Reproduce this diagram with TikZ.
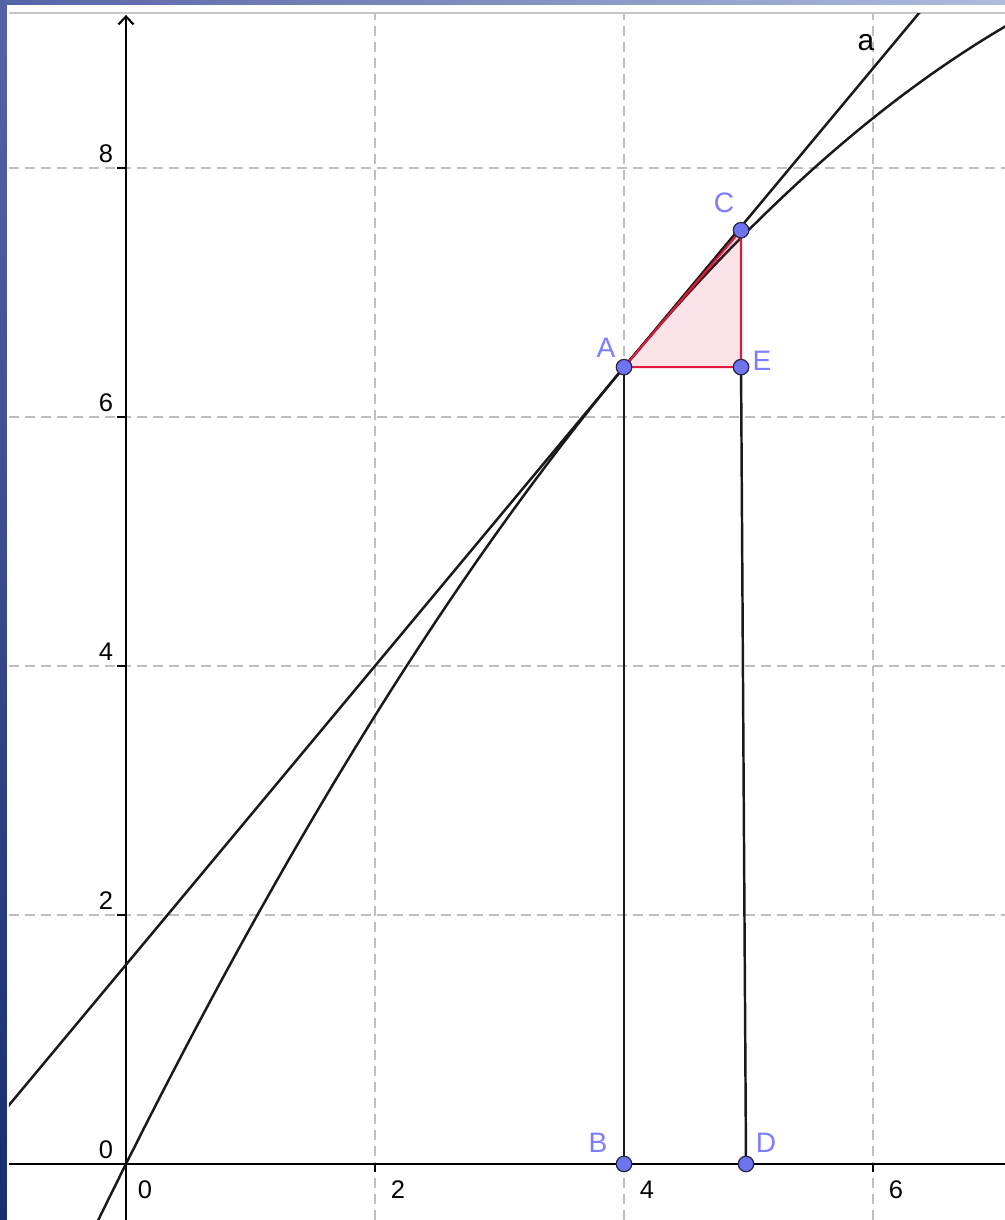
\documentclass[tikz,border=0pt]{standalone}
\usepackage{fontspec}
\setmainfont{Liberation Sans}
\usepackage{xcolor}
\usetikzlibrary{arrows.meta, positioning}

\definecolor{ptfill}{RGB}{110,116,240}
\definecolor{ptedge}{RGB}{40,40,70}
\definecolor{ptlabelcol}{RGB}{125,125,255}
\definecolor{triedge}{RGB}{225,25,60}
\definecolor{frameA}{RGB}{85,100,165}
\definecolor{frameB}{RGB}{25,45,115}
\definecolor{frameC}{RGB}{175,188,222}

\begin{document}
\begin{tikzpicture}[
    x=2.49cm, y=2.49cm,
    gridline/.style={gray!50, line width=0.8pt, dash pattern=on 0.2cm off 0.12cm},
    axisline/.style={black, line width=1.2pt},
    graphline/.style={black!90, line width=1.4pt},
    tri/.style={draw=triedge, fill=triedge, fill opacity=0.12, line width=1.2pt, line join=round},
    dot/.style={circle, draw=ptedge, fill=ptfill, line width=0.7pt, minimum size=0.31cm, inner sep=0pt},
    ptlabel/.style={text=ptlabelcol, font=\fontsize{16}{18}\selectfont, inner sep=0pt},
    numlabel/.style={font=\fontsize{14.5}{16}\selectfont, inner sep=0pt}
]

\useasboundingbox (-1.012,-0.450) rectangle (7.060,9.349);

% Window frame
\fill[white] (-1.012,-0.450) rectangle (7.060,9.349);
\shade[top color=frameA, bottom color=frameB] (-1.012,-0.450) rectangle (-0.956,9.349);
\shade[left color=frameA, right color=frameC] (-1.012,9.309) rectangle (7.060,9.349);
\draw[gray!45, line width=1.2pt] (-0.940,9.245) -- (7.060,9.245);

% Points
\coordinate (A) at (4,6.4);
\coordinate (B) at (4,0);
\coordinate (C) at (4.94,7.5);
\coordinate (D) at (4.98,0);
\coordinate (E) at (4.94,6.4);

\begin{scope}
\clip (-0.940,-0.450) rectangle (7.060,9.237);

% Grid
\foreach \x in {2,4,6}
    \draw[gridline] (\x,-0.45) -- (\x,9.237);
\foreach \y in {2,4,6,8}
    \draw[gridline] (-0.94,\y) -- (7.06,\y);

% Axes
\draw[axisline] (-0.94,0) -- (7.06,0);
\draw[axisline, -{Straight Barb[length=0.16cm, width=0.3cm]}] (0,-0.45) -- (0,9.229);
\foreach \x in {2,4,6}
    \draw[axisline] (\x,0) -- ++(0,-0.16cm);
\foreach \y in {2,4,6,8}
    \draw[axisline] (0,\y) -- ++(-0.18cm,0);

% Function and tangent a
\draw[graphline, domain=-0.3:7.1, samples=120, smooth] plot (\x, {2*\x-0.1*\x*\x});
\coordinate (aL) at (-1.05,0.34);
\coordinate (aR) at (6.5,9.4);
\draw[graphline] (aL) -- (aR);

% Slope triangle
\filldraw[tri] (A) -- (C) -- (E) -- cycle;

% Verticals
\draw[graphline] (B) -- (A);
\draw[graphline] (D) -- (E);
\end{scope}

% Axis numbers
\node[numlabel, xshift=0.38cm, yshift=-0.52cm] (xnum0) at (0,0) {0};
\foreach \x in {2,4,6}
    \node[numlabel, xshift=0.46cm, yshift=-0.52cm] (xnum\x) at (\x,0) {\x};
\foreach \y in {0,2,4,6,8}
    \node[numlabel, xshift=-0.40cm, yshift=0.28cm] (ynum\y) at (0,\y) {\y};

\node[font=\fontsize{17}{19}\selectfont, inner sep=0pt] (alabel) at (5.944,9.004) {a};

% Dots and labels
\foreach \p in {A,B,C,D,E}
    \node[dot] (dot\p) at (\p) {};
\node[ptlabel, xshift=-0.36cm, yshift=0.38cm] (labA) at (A) {A};
\node[ptlabel, xshift=-0.52cm, yshift=0.42cm] (labB) at (B) {B};
\node[ptlabel, xshift=-0.34cm, yshift=0.54cm] (labC) at (C) {C};
\node[ptlabel, xshift=0.40cm, yshift=0.42cm] (labD) at (D) {D};
\node[ptlabel, xshift=0.42cm, yshift=0.12cm] (labE) at (E) {E};

\end{tikzpicture}
\end{document}
